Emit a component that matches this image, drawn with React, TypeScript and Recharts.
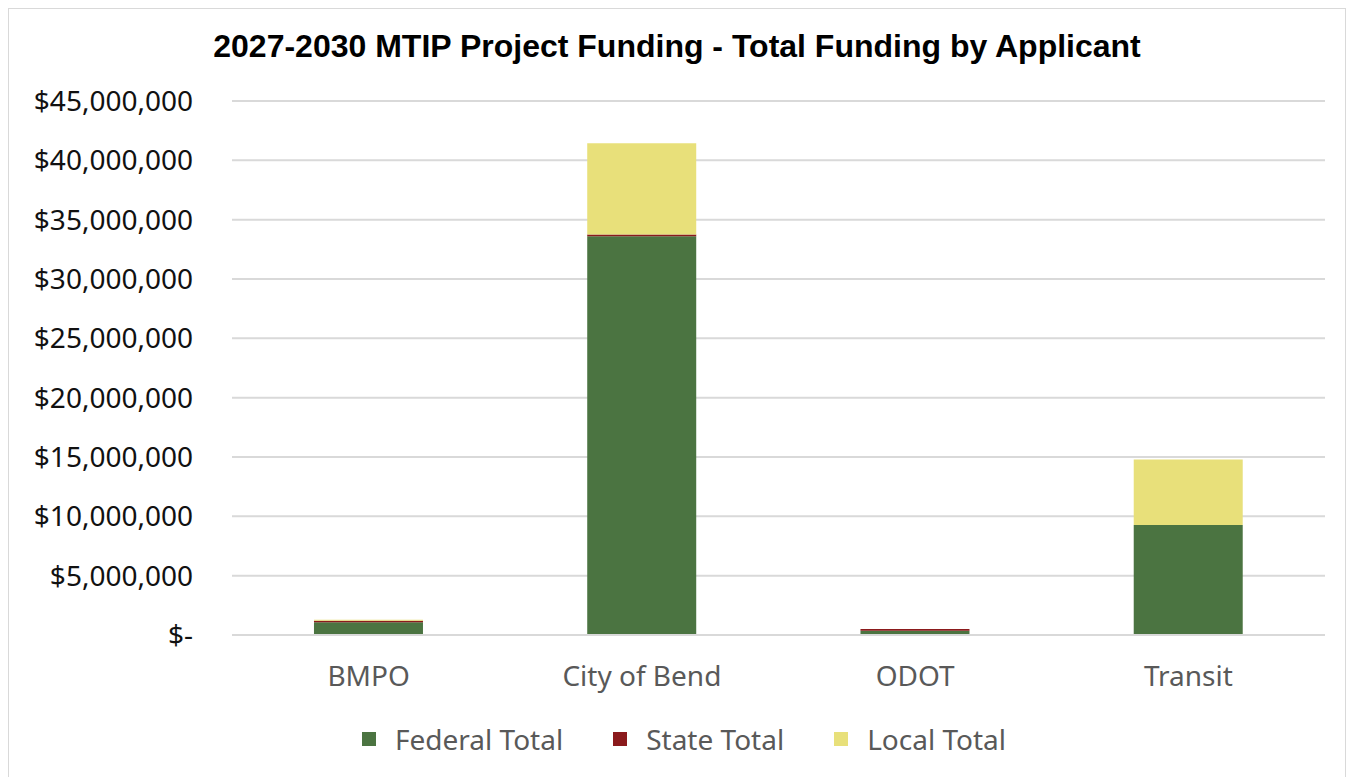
import React from 'react';
import { BarChart, Bar, XAxis, YAxis, CartesianGrid, Legend } from 'recharts';

const applicants = ['BMPO', 'City of Bend', 'ODOT', 'Transit'];
const federalTotal = [1070000, 33600000, 360000, 9280000];
const stateTotal = [130000, 150000, 150000, 0];
const localTotal = [80000, 7680000, 0, 5500000];
const yTicks = [0, 5000000, 10000000, 15000000, 20000000, 25000000, 30000000, 35000000, 40000000, 45000000];

const data = applicants.map((name, i) => ({
  name,
  federal: federalTotal[i],
  state: stateTotal[i],
  local: localTotal[i],
}));

const series = [
  { key: 'federal', label: 'Federal Total', color: '#4b7441' },
  { key: 'state', label: 'State Total', color: '#8b1a1c' },
  { key: 'local', label: 'Local Total', color: '#e8e07a' },
];
const FONT = '"Noto Sans", "Open Sans", sans-serif';

const fmtMoney = (v: number) => (v === 0 ? '$-' : '$' + v.toLocaleString('en-US'));

// legend drawn by hand so order and spacing match the Excel look
const renderLegend = () => (
  <div style={{ display: 'flex', justifyContent: 'center', fontFamily: FONT, fontSize: 28, color: '#595959', paddingLeft: 34, marginTop: -2 }}>
    {series.map((s, i) => (
      <div key={s.key} style={{ display: 'flex', alignItems: 'center', marginRight: i < series.length - 1 ? 50 : 0 }}>
        <span style={{ width: 14, height: 14, background: s.color, display: 'inline-block', marginRight: 19 }} />
        <span>{s.label}</span>
      </div>
    ))}
  </div>
);

export default function App() {
  return (
    <div style={{ position: 'relative', width: 1336, height: 768, border: '1px solid #d9d9d9', background: '#fff' }}>
      <div
        style={{
          position: 'absolute',
          top: 19,
          left: 0,
          width: '100%',
          textAlign: 'center',
          fontFamily: '"Liberation Sans", Arial, sans-serif',
          fontWeight: 'bold',
          fontSize: 32,
          color: '#000',
        }}
      >
        2027-2030 MTIP Project Funding - Total Funding by Applicant
      </div>
      <BarChart
        width={1336}
        height={768}
        data={data}
        margin={{ top: 92, right: 20, left: 0, bottom: 5 }}
        barCategoryGap="30%"
      >
        <CartesianGrid vertical={false} stroke="#d9d9d9" strokeWidth={2} />
        <XAxis
          dataKey="name"
          axisLine={{ stroke: '#d9d9d9', strokeWidth: 2 }}
          tickLine={false}
          tickSize={0}
          tickMargin={31}
          height={87}
          tick={{ fill: '#595959', fontSize: 28, fontFamily: FONT }}
        />
        <YAxis
          width={223}
          domain={[0, 45000000]}
          ticks={yTicks}
          tickFormatter={fmtMoney}
          axisLine={false}
          tickLine={false}
          tickSize={0}
          tickMargin={39}
          tick={{ fill: '#111', fontSize: 28, fontFamily: FONT }}
        />
        <Legend verticalAlign="bottom" height={50} content={renderLegend} />
        {series.map((s) => (
          <Bar key={s.key} dataKey={s.key} name={s.label} stackId="a" fill={s.color} isAnimationActive={false} />
        ))}
      </BarChart>
    </div>
  );
}
